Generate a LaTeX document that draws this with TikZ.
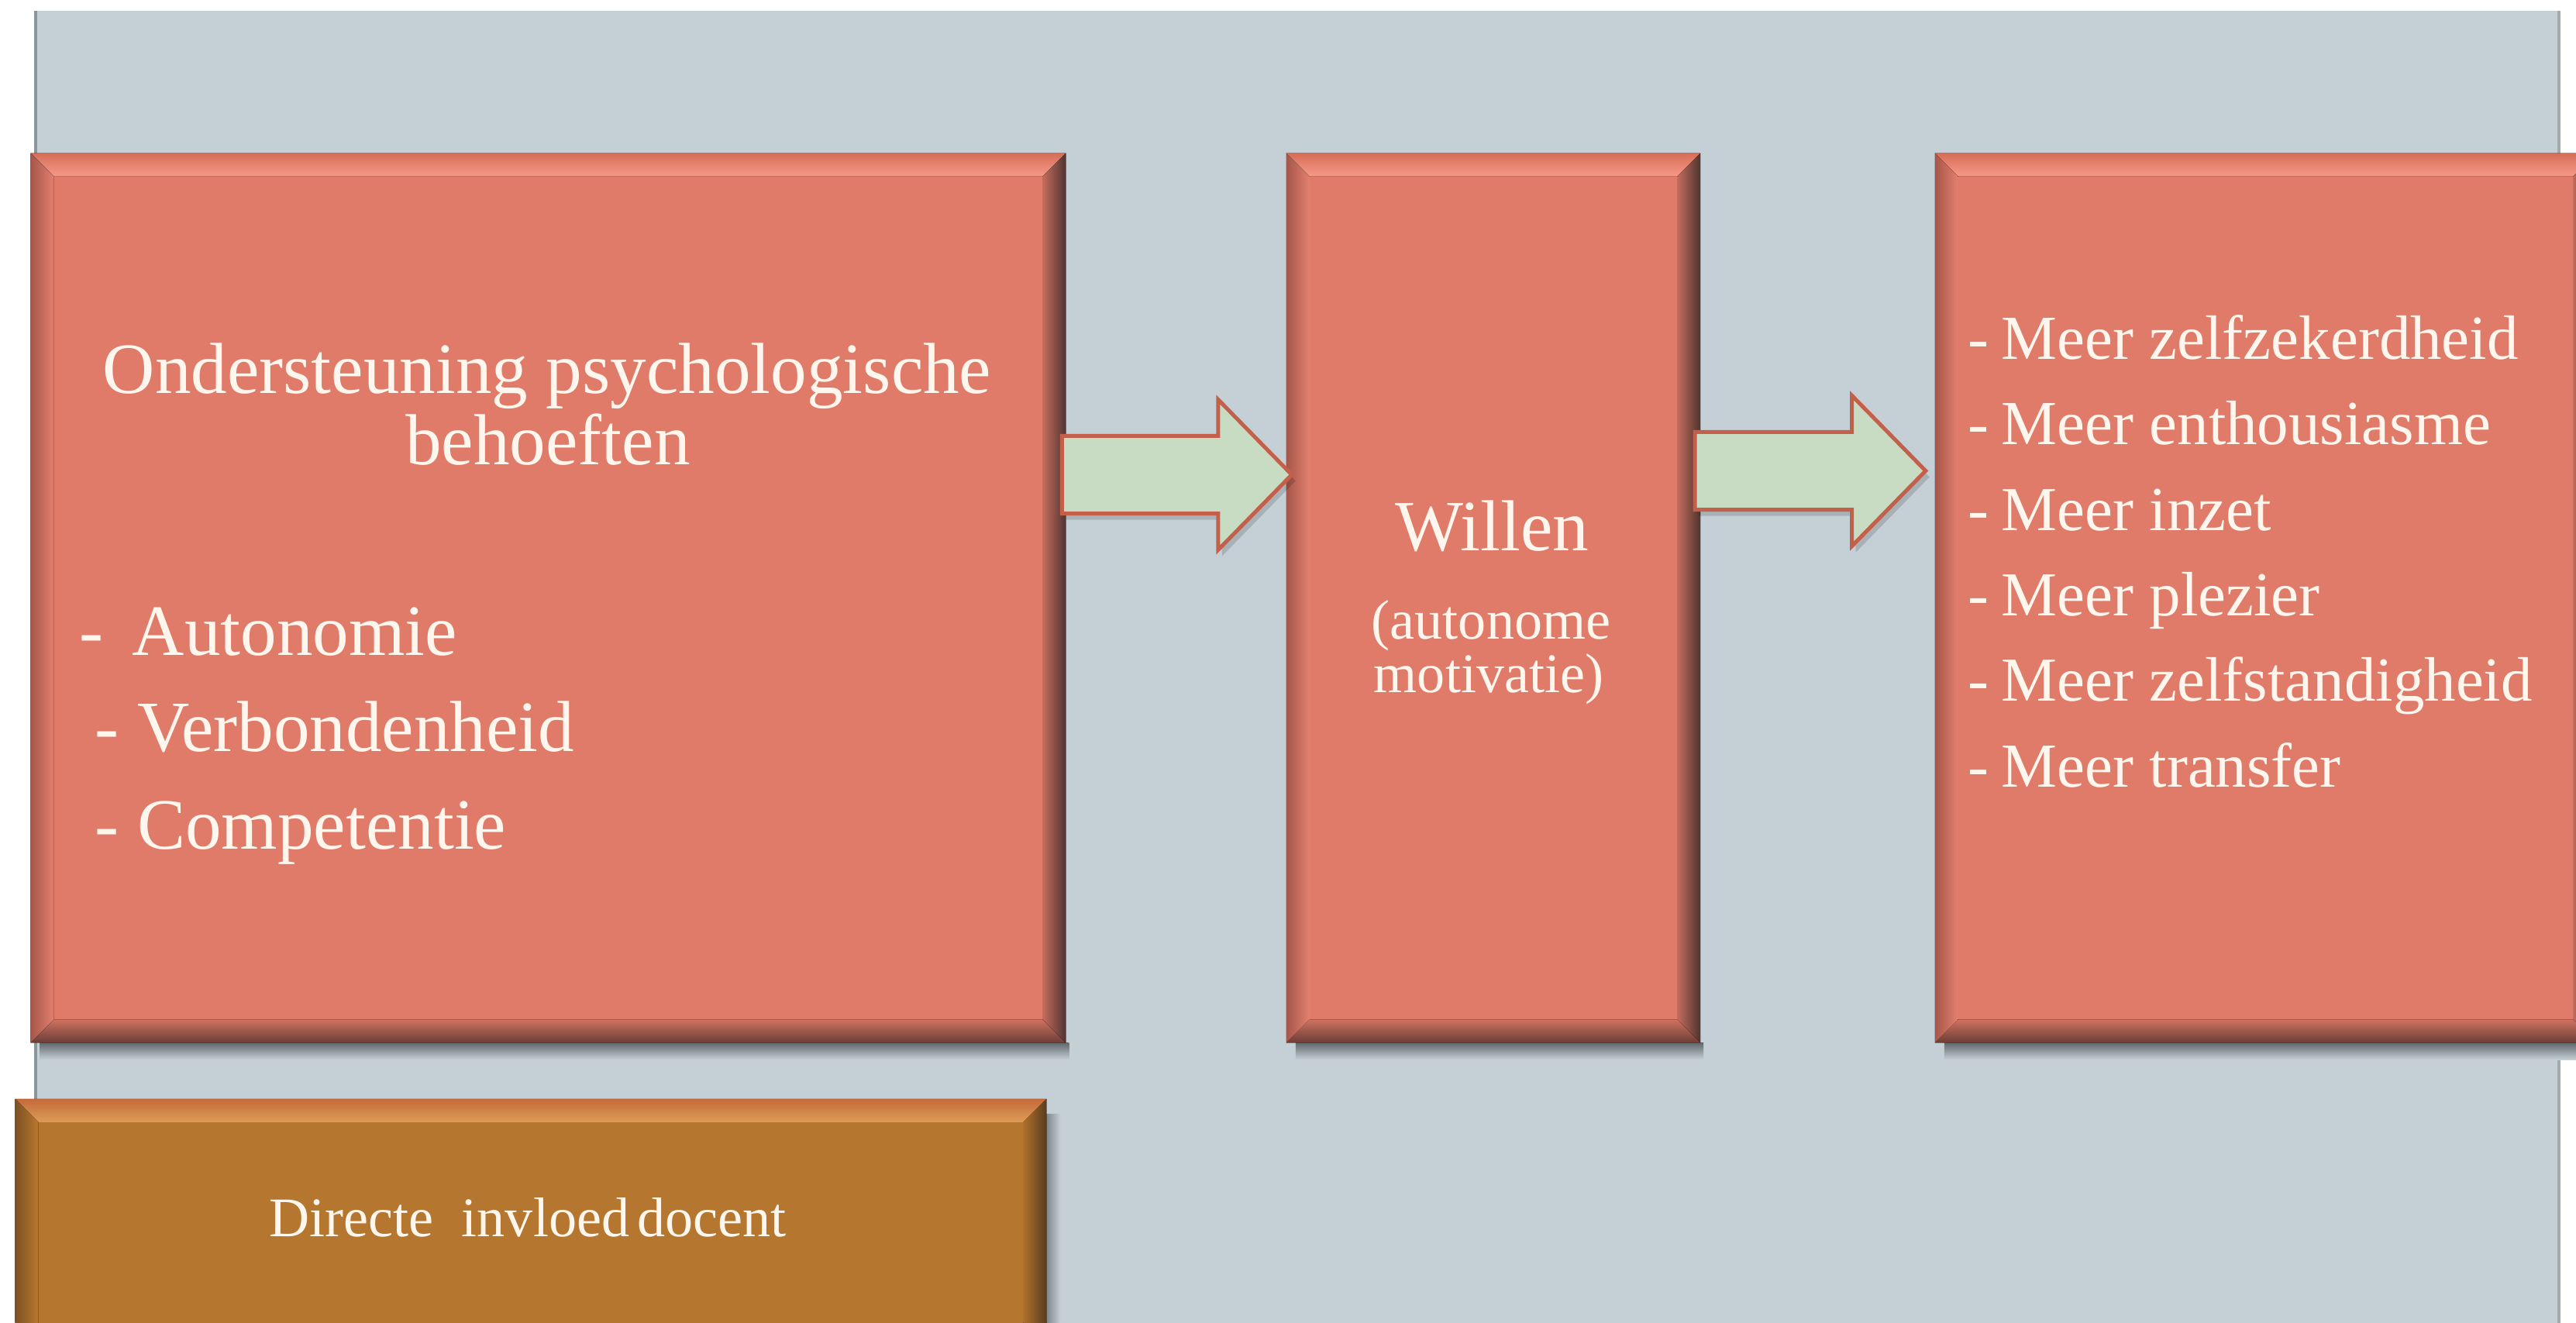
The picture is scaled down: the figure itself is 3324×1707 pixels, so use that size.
\documentclass[tikz,border=0pt]{standalone}
\usepackage{fontspec}
\setmainfont{Liberation Serif}
\usetikzlibrary{calc}
\definecolor{panel}{HTML}{C5D0D6}
\definecolor{panelline}{HTML}{8B9698}
\definecolor{salmon}{HTML}{E07B6A}
\definecolor{brownbox}{HTML}{B5772F}
\definecolor{arrowfill}{HTML}{C8DCC4}
\definecolor{arrowline}{HTML}{C4604A}
\definecolor{txt}{HTML}{FFF6EE}
\definecolor{sTopA}{HTML}{D66E58}
\definecolor{sTopB}{HTML}{F59A89}
\definecolor{sLeftA}{HTML}{A5564A}
\definecolor{sLeftB}{HTML}{E4806F}
\definecolor{sRightA}{HTML}{C46C5C}
\definecolor{sRightB}{HTML}{4E3430}
\definecolor{sBotA}{HTML}{CF7260}
\definecolor{sBotB}{HTML}{6A3D37}
\definecolor{bTopA}{HTML}{C46A3A}
\definecolor{bTopB}{HTML}{DE9D58}
\definecolor{bLeftA}{HTML}{7E5122}
\definecolor{bLeftB}{HTML}{B9782F}
\definecolor{bRightA}{HTML}{AE702C}
\definecolor{bRightB}{HTML}{5A3C1E}
\definecolor{bBotA}{HTML}{A86C2A}
\definecolor{bBotB}{HTML}{5A3C1E}
\newcommand\drawbevel[9]{%
  \fill[top color=#2,bottom color=#3] (#1.north west) -- (#1.north east) -- ([xshift=-0.3cm,yshift=-0.3cm]#1.north east) -- ([xshift=0.3cm,yshift=-0.3cm]#1.north west) -- cycle;
  \fill[top color=#8,bottom color=#9] (#1.south west) -- (#1.south east) -- ([xshift=-0.3cm,yshift=0.3cm]#1.south east) -- ([xshift=0.3cm,yshift=0.3cm]#1.south west) -- cycle;
  \fill[left color=#4,right color=#5] (#1.north west) -- ([xshift=0.3cm,yshift=-0.3cm]#1.north west) -- ([xshift=0.3cm,yshift=0.3cm]#1.south west) -- (#1.south west) -- cycle;
  \fill[left color=#6,right color=#7] (#1.north east) -- ([xshift=-0.3cm,yshift=-0.3cm]#1.north east) -- ([xshift=-0.3cm,yshift=0.3cm]#1.south east) -- (#1.south east) -- cycle;
}
\newcommand\boxshadow[1]{%
  \fill[top color=black!50!panel,bottom color=panel] ([xshift=0.12cm]#1.south west) rectangle ([xshift=0.04cm,yshift=-0.22cm]#1.south east);
}
\newcommand\fatarrow[2]{%
  \fill[black,opacity=0.15] let \p1=(#1), \p2=(#2) in
    (\x1+0.05cm,\y1+0.5cm-0.08cm) -- (\x2-0.95cm+0.05cm,\y1+0.5cm-0.08cm) -- (\x2-0.95cm+0.05cm,\y1+0.97cm-0.08cm) -- (\x2+0.05cm,\y1-0.08cm)
    -- (\x2-0.95cm+0.05cm,\y1-0.97cm-0.08cm) -- (\x2-0.95cm+0.05cm,\y1-0.5cm-0.08cm) -- (\x1+0.05cm,\y1-0.5cm-0.08cm) -- cycle;
  \draw[bigarrow] let \p1=(#1), \p2=(#2) in
    (\x1,\y1+0.5cm) -- (\x2-0.95cm,\y1+0.5cm) -- (\x2-0.95cm,\y1+0.97cm) -- (\x2,\y1)
    -- (\x2-0.95cm,\y1-0.97cm) -- (\x2-0.95cm,\y1-0.5cm) -- (\x1,\y1-0.5cm) -- cycle;
}
\begin{document}
\begin{tikzpicture}[x=0.01cm,y=-0.01cm,
  boxnode/.style={draw=none,fill=salmon,minimum height=11.47cm,inner sep=0pt,outer sep=0pt},
  bigarrow/.style={fill=arrowfill,draw=arrowline,line width=0.05cm,line join=miter},
  bigtext/.style={text=txt,inner sep=0pt,font=\fontsize{26.5}{30}\selectfont},
  listtext/.style={text=txt,inner sep=0pt,anchor=base west,font=\fontsize{23}{26}\selectfont},
  smalltext/.style={text=txt,inner sep=0pt,anchor=base,font=\fontsize{20.5}{24}\selectfont}]
\clip (0,0) rectangle (3324,1707);
\fill[white] (0,0) rectangle (3324,1707);
% panel
\fill[panel] (46,14) rectangle (3302,1707);
\draw[panelline,line width=0.03cm] (46,14) -- (46,1707);
\draw[panelline!80!white,line width=0.04cm] (3302,14) -- (3302,1707);
% boxes
\node[boxnode,minimum width=13.35cm] (b1) at (707.5,771.5) {};
\node[boxnode,minimum width=5.34cm] (b2) at (1927,771.5) {};
\node[boxnode,minimum width=8.53cm] (b3) at (2923.5,771.5) {};
\node[draw=none,fill=brownbox,minimum width=13.3cm,minimum height=3.22cm,inner sep=0pt,outer sep=0pt] (b4) at (685,1579) {};
\boxshadow{b1}\boxshadow{b2}\boxshadow{b3}
\fill[left color=black!35!panel,right color=panel] ([yshift=-0.2cm]b4.north east) rectangle ([xshift=0.18cm]b4.south east);
\foreach \b in {b1,b2,b3}{
  \drawbevel{\b}{sTopA}{sTopB}{sLeftA}{sLeftB}{sRightA}{sRightB}{sBotA}{sBotB}
}
\drawbevel{b4}{bTopA}{bTopB}{bLeftA}{bLeftB}{bRightA}{bRightB}{bBotA}{bBotB}
% arrows
\coordinate (a1s) at ($(b1.east)+(-5,-159)$);
\coordinate (a1e) at ($(b2.west)+(7,-159)$);
\coordinate (a2s) at ($(b2.east)+(-7,-164)$);
\coordinate (a2e) at ($(b3.west)+(-12,-164)$);
\fatarrow{a1s}{a1e}
\fatarrow{a2s}{a2e}
% texts box 1
\node[bigtext,anchor=base] (t1a) at (706,508) {Ondersteuning psychologische};
\node[bigtext,anchor=base] (t1b) at (707,600) {behoeften};
\node[bigtext,anchor=base west] (l1a) at (102,846) {-\hspace{0.4em}Autonomie};
\node[bigtext,anchor=base west] (l1b) at (122,970) {- Verbondenheid};
\node[bigtext,anchor=base west] (l1c) at (122,1095) {- Competentie};
% box 2
\node[bigtext,anchor=base] (w1) at (1925,711) {Willen};
\node[smalltext] (w2) at (1924,825) {(autonome};
\node[smalltext] (w3) at (1921,894) {motivatie)};
% box 3
\node[listtext] (r1) at (2539,464) {-\hspace{0.2em}Meer zelfzekerdheid};
\node[listtext] (r2) at (2539,574) {-\hspace{0.2em}Meer enthousiasme};
\node[listtext] (r3) at (2539,685) {-\hspace{0.2em}Meer inzet};
\node[listtext] (r4) at (2539,795) {-\hspace{0.2em}Meer plezier};
\node[listtext] (r5) at (2539,905) {-\hspace{0.2em}Meer zelfstandigheid};
\node[listtext] (r6) at (2539,1016) {-\hspace{0.2em}Meer transfer};
% brown box
\node[smalltext] (d1) at (681,1595) {Directe\hspace{0.5em}invloed\hspace{0.14em}docent};
\end{tikzpicture}
\end{document}
